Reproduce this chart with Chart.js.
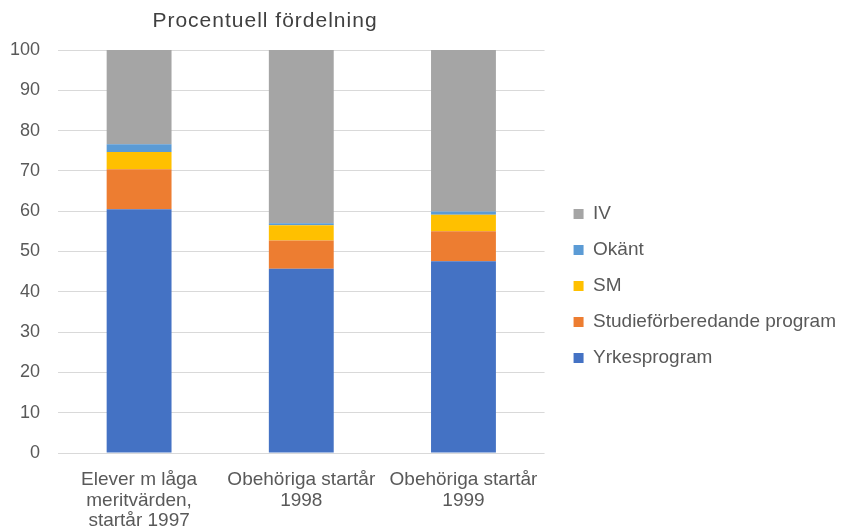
<!DOCTYPE html>
<html>
<head>
<meta charset="utf-8">
<script src="https://cdn.jsdelivr.net/npm/chart.js@4/dist/chart.umd.min.js"></script>
<style>
  body { margin: 0; background: #fff; }
  #wrap { width: 841px; height: 528px; }
</style>
</head>
<body>
<div id="wrap"><canvas id="chart" width="841" height="528"></canvas></div>
<script>
// categories (multi-line x labels)
const categories = [
  ["Elever m låga", "meritvärden,", "startår 1997"],
  ["Obehöriga startår", "1998"],
  ["Obehöriga startår", "1999"],
];

// percent per category, bottom to top
const yrkesprogram = [60.5, 45.7, 47.6];
const studieforberedande = [9.9, 7.0, 7.4];
const sm = [4.3, 3.8, 4.1];
const okant = [1.9, 0.5, 0.8];
const iv = [23.4, 43.0, 40.1];

const chartTitle = "Procentuell fördelning";

const FONT = "'Liberation Sans', Arial, sans-serif";
const TEXT = "#595959";

// title drawn over the plot area (excel puts it left of centre)
const titlePlugin = {
  id: "titleText",
  afterLayout(chart) {
    // nudge legend right/up without moving the plot edge
    chart.legend.left += 12;
    chart.legend.right += 12;
    chart.legend.top -= 3;
    chart.legend.bottom -= 3;
  },
  afterDraw(chart) {
    const ctx = chart.ctx;
    ctx.save();
    ctx.font = "21px " + FONT;
    ctx.letterSpacing = "1px";
    ctx.fillStyle = "#404040";
    ctx.textAlign = "center";
    ctx.textBaseline = "middle";
    ctx.fillText(chartTitle, 265, 21);
    ctx.restore();
  },
};

const ctx = document.getElementById("chart").getContext("2d");

new Chart(ctx, {
  type: "bar",
  data: {
    labels: categories,
    datasets: [
      { label: "Yrkesprogram", data: yrkesprogram, backgroundColor: "#4472C4" },
      { label: "Studieförberedande program", data: studieforberedande, backgroundColor: "#ED7D31" },
      { label: "SM", data: sm, backgroundColor: "#FFC000" },
      { label: "Okänt", data: okant, backgroundColor: "#5B9BD5" },
      { label: "IV", data: iv, backgroundColor: "#A5A5A5" },
    ],
  },
  options: {
    responsive: false,
    animation: false,
    layout: { padding: { top: 50, left: 9, right: 7, bottom: 0 } },
    datasets: {
      bar: { barPercentage: 0.4, categoryPercentage: 1, borderWidth: 0 },
    },
    plugins: {
      title: { display: false },
      tooltip: { enabled: false },
      legend: {
        position: "right",
        reverse: true,
        maxWidth: 400,
        labels: {
          boxWidth: 10,
          boxHeight: 10,
          padding: 17,
          color: TEXT,
          font: { family: FONT, size: 19 },
        },
      },
    },
    scales: {
      x: {
        stacked: true,
        grid: { display: false },
        border: { display: false },
        afterFit(scale) {
          scale.height = 75;
        },
        ticks: {
          color: TEXT,
          font: { family: FONT, size: 19, lineHeight: 1.1 },
          padding: 8,
          maxRotation: 0,
        },
      },
      y: {
        stacked: true,
        min: 0,
        max: 100,
        border: { display: false },
        grid: { color: "#D9D9D9", drawTicks: false },
        afterFit(scale) {
          scale.width = 49;
        },
        ticks: {
          stepSize: 10,
          color: TEXT,
          font: { family: FONT, size: 18 },
          padding: 18,
        },
      },
    },
  },
  plugins: [titlePlugin],
});
</script>
</body>
</html>
